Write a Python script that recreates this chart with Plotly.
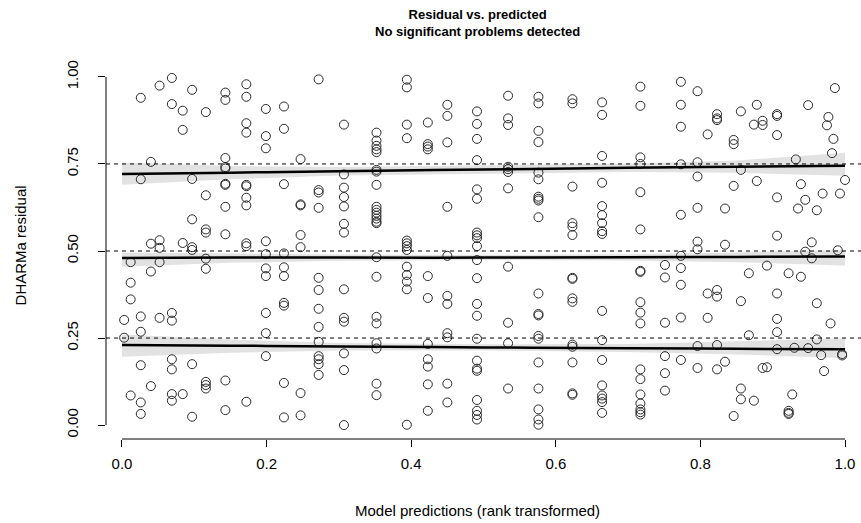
import plotly.graph_objects as go

# ---- data: rank-transformed predictions (columns) and scaled residuals ----
col_x = [0.003, 0.012, 0.026, 0.040, 0.052, 0.069, 0.084, 0.097, 0.116, 0.143,
         0.172, 0.199, 0.224, 0.247, 0.272, 0.307, 0.352, 0.394, 0.423, 0.450,
         0.491, 0.534, 0.576, 0.623, 0.664, 0.717, 0.751, 0.773, 0.796, 0.810,
         0.823, 0.834, 0.846, 0.856, 0.867, 0.874, 0.878, 0.886, 0.892, 0.906,
         0.922, 0.927, 0.930, 0.932, 0.935, 0.939, 0.945, 0.949, 0.954, 0.961,
         0.967, 0.969, 0.971, 0.975, 0.977, 0.980, 0.982, 0.984, 0.986, 0.990,
         0.993, 0.996, 1.000]
col_resid = [
    [0.302, 0.251],
    [0.468, 0.409, 0.361, 0.085],
    [0.940, 0.706, 0.312, 0.268, 0.172, 0.065, 0.032],
    [0.756, 0.521, 0.441, 0.112],
    [0.975, 0.531, 0.509, 0.468, 0.308],
    [0.997, 0.922, 0.322, 0.300, 0.189, 0.160, 0.089, 0.070],
    [0.903, 0.848, 0.523, 0.089],
    [0.963, 0.707, 0.591, 0.511, 0.503, 0.175, 0.024],
    [0.899, 0.660, 0.562, 0.553, 0.478, 0.449, 0.124, 0.115, 0.105],
    [0.955, 0.934, 0.767, 0.741, 0.737, 0.693, 0.690, 0.627, 0.548, 0.128, 0.043],
    [0.979, 0.943, 0.867, 0.840, 0.690, 0.686, 0.653, 0.631, 0.522, 0.514, 0.067],
    [0.908, 0.830, 0.795, 0.528, 0.491, 0.450, 0.428, 0.322, 0.264, 0.198],
    [0.915, 0.851, 0.692, 0.493, 0.453, 0.428, 0.351, 0.343, 0.121, 0.022],
    [0.764, 0.634, 0.631, 0.546, 0.511, 0.092, 0.028],
    [0.993, 0.675, 0.668, 0.624, 0.423, 0.388, 0.334, 0.282, 0.239, 0.198, 0.189, 0.175, 0.144],
    [0.863, 0.720, 0.682, 0.655, 0.628, 0.578, 0.553, 0.390, 0.308, 0.297, 0.206, 0.158, 0.000],
    [0.840, 0.817, 0.802, 0.792, 0.784, 0.733, 0.728, 0.690, 0.627, 0.618, 0.610, 0.601,
     0.593, 0.584, 0.580, 0.482, 0.426, 0.311, 0.292, 0.235, 0.220, 0.119, 0.086],
    [0.992, 0.970, 0.863, 0.824, 0.530, 0.522, 0.514, 0.503, 0.455, 0.431, 0.412, 0.390, 0.001],
    [0.869, 0.807, 0.800, 0.792, 0.428, 0.365, 0.233, 0.189, 0.168, 0.117, 0.041],
    [0.920, 0.888, 0.812, 0.627, 0.486, 0.371, 0.348, 0.264, 0.252, 0.119, 0.065],
    [0.901, 0.865, 0.822, 0.761, 0.677, 0.650, 0.553, 0.545, 0.537, 0.514, 0.474, 0.422,
     0.348, 0.314, 0.248, 0.185, 0.162, 0.156, 0.072, 0.041, 0.029, 0.016],
    [0.946, 0.881, 0.862, 0.742, 0.735, 0.727, 0.680, 0.455, 0.294, 0.235, 0.105],
    [0.943, 0.924, 0.845, 0.813, 0.725, 0.706, 0.656, 0.650, 0.645, 0.597, 0.378, 0.319,
     0.315, 0.256, 0.248, 0.180, 0.105, 0.045, 0.016, 0.001],
    [0.936, 0.924, 0.685, 0.580, 0.570, 0.546, 0.423, 0.420, 0.364, 0.354, 0.231, 0.225,
     0.180, 0.091, 0.087],
    [0.927, 0.891, 0.773, 0.696, 0.629, 0.603, 0.580, 0.557, 0.549, 0.328, 0.244, 0.187,
     0.114, 0.085, 0.076, 0.066, 0.035],
    [0.972, 0.917, 0.769, 0.750, 0.669, 0.562, 0.443, 0.440, 0.353, 0.323, 0.292, 0.160,
     0.132, 0.088, 0.062, 0.045, 0.037, 0.030],
    [0.460, 0.424, 0.294, 0.198, 0.149, 0.099],
    [0.986, 0.920, 0.857, 0.749, 0.604, 0.486, 0.451, 0.403, 0.309, 0.187],
    [0.959, 0.755, 0.714, 0.624, 0.527, 0.505, 0.227, 0.164],
    [0.835, 0.378, 0.308],
    [0.893, 0.881, 0.876, 0.388, 0.369, 0.230, 0.160],
    [0.622, 0.518, 0.182],
    [0.819, 0.807, 0.687, 0.026],
    [0.901, 0.733, 0.356, 0.105, 0.074],
    [0.436, 0.258],
    [0.863, 0.070],
    [0.920, 0.701],
    [0.874, 0.862, 0.164],
    [0.458, 0.166],
    [0.893, 0.888, 0.833, 0.654, 0.544, 0.378, 0.305, 0.267, 0.218],
    [0.436, 0.041, 0.035, 0.032],
    [0.088],
    [0.222],
    [0.763],
    [0.622],
    [0.692, 0.426],
    [0.647, 0.498],
    [0.919, 0.221],
    [0.525, 0.479],
    [0.617, 0.350, 0.246],
    [0.201],
    [0.665],
    [0.155],
    [0.861],
    [0.885],
    [0.292],
    [0.781],
    [0.822],
    [0.968],
    [0.502],
    [0.665],
    [0.204, 0.200],
    [0.704],
]

# ---- quantile regression fits (0.25, 0.5, 0.75) with confidence bands ----
q_x = [0.0, 0.15, 0.3, 0.5, 0.7, 0.85, 1.0]
q25 = [0.230, 0.228, 0.226, 0.223, 0.221, 0.219, 0.218]
q25_lo = [0.196, 0.208, 0.214, 0.214, 0.210, 0.203, 0.192]
q25_hi = [0.260, 0.246, 0.236, 0.232, 0.233, 0.240, 0.249]
q50 = [0.480, 0.481, 0.481, 0.481, 0.482, 0.483, 0.484]
q50_lo = [0.455, 0.466, 0.472, 0.474, 0.473, 0.468, 0.458]
q50_hi = [0.496, 0.493, 0.490, 0.489, 0.491, 0.496, 0.503]
q75 = [0.721, 0.725, 0.729, 0.734, 0.739, 0.742, 0.745]
q75_lo = [0.690, 0.706, 0.717, 0.723, 0.727, 0.725, 0.716]
q75_hi = [0.754, 0.744, 0.741, 0.745, 0.751, 0.760, 0.782]

ref_quantiles = [0.25, 0.5, 0.75]
x_ticks = [0.0, 0.2, 0.4, 0.6, 0.8, 1.0]
y_ticks = [0.0, 0.25, 0.5, 0.75, 1.0]

title_lines = ["Residual vs. predicted", "No significant problems detected"]
x_label = "Model predictions (rank transformed)"
y_label = "DHARMa residual"

# ---- build ----
pred_x, resid_y = [], []
for cx, ys in zip(col_x, col_resid):
    for yv in ys:
        pred_x.append(cx)
        resid_y.append(yv)

FONT = "Liberation Sans, Arial, sans-serif"
fig = go.Figure()

for lo, hi in [(q25_lo, q25_hi), (q50_lo, q50_hi), (q75_lo, q75_hi)]:
    fig.add_trace(go.Scatter(
        x=q_x + q_x[::-1], y=hi + lo[::-1], fill="toself", mode="lines",
        line=dict(width=0), fillcolor="rgba(190,190,190,0.45)",
        hoverinfo="skip", showlegend=False))

fig.add_trace(go.Scatter(
    x=pred_x, y=resid_y, mode="markers",
    marker=dict(symbol="circle-open", size=9, color="#2a2a2a",
                line=dict(width=1, color="#2a2a2a")),
    showlegend=False))

for q in [q25, q50, q75]:
    fig.add_trace(go.Scatter(x=q_x, y=q, mode="lines",
                             line=dict(color="black", width=2.5, shape="spline"),
                             showlegend=False))

for rq in ref_quantiles:
    fig.add_shape(type="line", xref="paper", yref="y", x0=0, x1=1, y0=rq, y1=rq,
                  line=dict(color="black", width=1, dash="4px,4px"))

# R-style axis lines spanning first to last tick
fig.add_shape(type="line", xref="x", yref="paper", x0=x_ticks[0], x1=x_ticks[-1],
              y0=0, y1=0, line=dict(color="black", width=1))
fig.add_shape(type="line", xref="paper", yref="y", x0=0, x1=0,
              y0=y_ticks[0], y1=y_ticks[-1], line=dict(color="black", width=1))

fig.update_xaxes(range=[-0.0221, 1.0221], tickvals=x_ticks, tickformat=".1f",
                 ticks="outside", ticklen=7, tickcolor="black", showline=False,
                 showgrid=False, zeroline=False, ticklabelstandoff=4,
                 tickfont=dict(family=FONT, size=15, color="black"))
fig.update_yaxes(range=[-0.04, 1.04], tickvals=y_ticks, tickformat=".2f",
                 ticks="outside", ticklen=7, tickcolor="black", showline=False,
                 showgrid=False, zeroline=False, tickangle=-90, ticklabelstandoff=14,
                 tickfont=dict(family=FONT, size=15, color="black"))

fig.add_annotation(text="<br>".join("<b>%s</b>" % t for t in title_lines),
                   xref="paper", yref="paper", x=0.4927, y=1.1077,
                   xanchor="center", yanchor="middle", showarrow=False,
                   font=dict(family=FONT, size=13, color="black"))
fig.add_annotation(text=x_label, xref="paper", yref="paper", x=0.4927, y=-0.191,
                   xanchor="center", yanchor="middle", showarrow=False,
                   font=dict(family=FONT, size=15, color="black"))
fig.add_annotation(text=y_label, xref="paper", yref="paper", x=-0.112, y=0.516,
                   xanchor="center", yanchor="middle", showarrow=False, textangle=-90,
                   font=dict(family=FONT, size=15, color="black"))

fig.update_layout(width=861, height=523,
                  margin=dict(l=106, r=0, t=63, b=84),
                  paper_bgcolor="white", plot_bgcolor="white")

fig.write_html("out.html")
